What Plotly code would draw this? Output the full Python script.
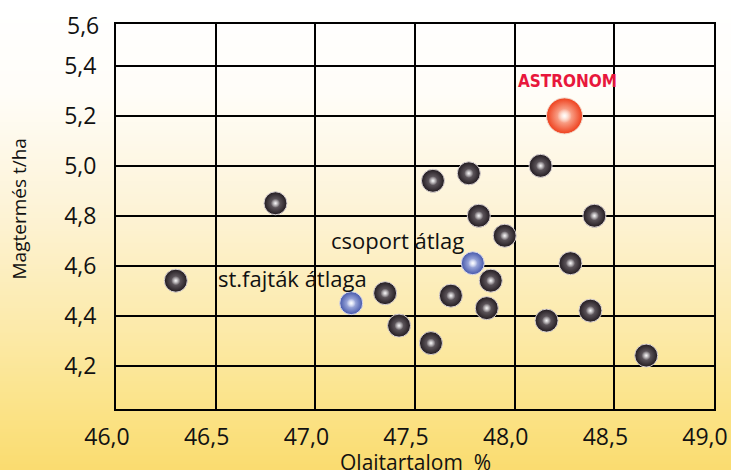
import base64, struct, zlib
import plotly.graph_objects as go

# ---- data ----
hybrid_oil = [46.30, 46.80, 47.35, 47.42, 47.58, 47.59, 47.68, 47.77, 47.82, 47.88,
              47.86, 47.95, 48.13, 48.16, 48.28, 48.38, 48.40, 48.66]
hybrid_yield = [4.54, 4.85, 4.49, 4.36, 4.29, 4.94, 4.48, 4.97, 4.80, 4.54,
                4.43, 4.72, 5.00, 4.38, 4.61, 4.42, 4.80, 4.24]
group_avg_oil = [47.79]
group_avg_yield = [4.61]
std_avg_oil = [47.18]
std_avg_yield = [4.45]
astronom_oil = [48.25]
astronom_yield = [5.20]
x_ticks = [46.0, 46.5, 47.0, 47.5, 48.0, 48.5, 49.0]
y_ticks = [4.2, 4.4, 4.6, 4.8, 5.0, 5.2, 5.4]

W, H = 731, 470
L, R, T, B = 116, 17, 24, 61
YR = [4.026, 5.568]

# ---- background gradient png ----
stops = [(0.0, (255, 255, 255)), (0.2, (255, 253, 248)), (0.45, (253, 243, 214)),
         (0.7, (252, 234, 170)), (0.85, (251, 228, 140)), (1.0, (250, 220, 112))]
def col(t):
    for (t0, c0), (t1, c1) in zip(stops[:-1], stops[1:]):
        if t <= t1:
            f = (t - t0) / (t1 - t0)
            return tuple(int(round(a + (b - a) * f)) for a, b in zip(c0, c1))
    return stops[-1][1]
rows = b''
NH = 256
for i in range(NH):
    c = col(i / (NH - 1))
    rows += b'\x00' + bytes(c) * 2
def chunk(tag, data):
    return struct.pack('>I', len(data)) + tag + data + struct.pack('>I', zlib.crc32(tag + data) & 0xffffffff)
png = b'\x89PNG\r\n\x1a\n' + chunk(b'IHDR', struct.pack('>IIBBBBB', 2, NH, 8, 2, 0, 0, 0)) \
      + chunk(b'IDAT', zlib.compress(rows)) + chunk(b'IEND', b'')
bg_uri = 'data:image/png;base64,' + base64.b64encode(png).decode()

pw, ph = W - L - R, H - T - B

def ball(x, y, size, edge, centre, line):
    base = go.Scatter(x=x, y=y, mode='markers', hoverinfo='skip', showlegend=False,
                      marker=dict(size=size, color=edge,
                                  gradient=dict(type='radial', color=centre),
                                  line=dict(width=1, color=line)))
    hl = go.Scatter(x=x, y=y, mode='markers', hoverinfo='skip', showlegend=False,
                    marker=dict(size=size * 0.4, color='rgba(255,255,255,0)',
                                gradient=dict(type='radial', color='rgba(255,255,255,0.95)'),
                                line=dict(width=0)))
    return [base, hl]

fig = go.Figure()
for tr in ball(hybrid_oil, hybrid_yield, 23, '#221b20', '#7f777d', '#d9d2d4'):
    fig.add_trace(tr)
for tr in ball(group_avg_oil + std_avg_oil, group_avg_yield + std_avg_yield, 23,
               '#4557aa', '#c9d2f4', '#dcdcec'):
    fig.add_trace(tr)
for tr in ball(astronom_oil, astronom_yield, 36, '#ee3f1c', '#ffd9c6', '#f2d8cc'):
    fig.add_trace(tr)

fig.add_layout_image(dict(source=bg_uri, xref='paper', yref='paper',
                          x=-L / pw, y=1 + T / ph, sizex=W / pw, sizey=H / ph,
                          sizing='stretch', xanchor='left', yanchor='top', layer='below'))

font = 'Open Sans, Noto Sans, DejaVu Sans, sans-serif'
tick_font = dict(size=23, family=font, color='#111111')
lab_font = dict(size=22, family=font, color='#111111')
fig.update_layout(
    width=W, height=H, margin=dict(l=L, r=R, t=T, b=B, pad=0, autoexpand=False),
    paper_bgcolor='white', plot_bgcolor='rgba(0,0,0,0)',
    separators=', ', showlegend=False,
    font=dict(family=font, color='#111111'),
    xaxis=dict(range=[46.0, 49.0], tickvals=x_ticks, tickformat='.1f', automargin=False,
               showgrid=True, gridcolor='black', gridwidth=2, zeroline=False,
               showline=True, linecolor='black', linewidth=2, mirror=True,
               ticks='', tickfont=tick_font,
               ticklabelstandoff=6, ticklabelshift=-9),
    yaxis=dict(range=YR, tickvals=y_ticks, tickformat='.1f', automargin=False,
               showgrid=True, gridcolor='black', gridwidth=2, zeroline=False,
               showline=True, linecolor='black', linewidth=2, mirror=True,
               ticks='', tickfont=tick_font,
               ticklabelstandoff=13),
)

ann = [
    dict(text='5,6', xref='paper', yref='paper', x=-15 / pw, y=1 - 1 / ph, xanchor='right',
         yanchor='middle', showarrow=False, font=tick_font),
    dict(text='Olajtartalom  %', xref='paper', yref='paper', x=0.5, y=-53 / ph,
         xanchor='center', yanchor='middle', showarrow=False,
         font=dict(size=21, family=font, color='#111111')),
    dict(text='Magtermés t/ha', xref='paper', yref='paper', x=-98 / pw, y=(409.5 - 210) / ph,
         xanchor='center', yanchor='middle', textangle=-90, showarrow=False,
         font=dict(size=19, family=font, color='#111111')),
    dict(text='csoport átlag', x=group_avg_oil[0], y=group_avg_yield[0], xref='x', yref='y',
         xanchor='center', yanchor='middle', showarrow=False, xshift=-75, yshift=23,
         font=lab_font),
    dict(text='st.fajták átlaga', x=std_avg_oil[0], y=std_avg_yield[0], xref='x', yref='y',
         xanchor='center', yanchor='middle', showarrow=False, xshift=-59, yshift=25,
         font=lab_font),
    dict(text='<b>ASTRONOM</b>', x=astronom_oil[0], y=astronom_yield[0], xref='x', yref='y',
         xanchor='center', yanchor='middle', showarrow=False, xshift=3, yshift=35,
         font=dict(size=17, family='DejaVu Sans Condensed, Liberation Sans Narrow, sans-serif',
                   color='#e8173c')),
]
fig.update_layout(annotations=ann)

fig.write_html('out.html', config={'displayModeBar': False},
               post_script="document.body.style.margin='0';document.body.style.overflow='hidden';")
